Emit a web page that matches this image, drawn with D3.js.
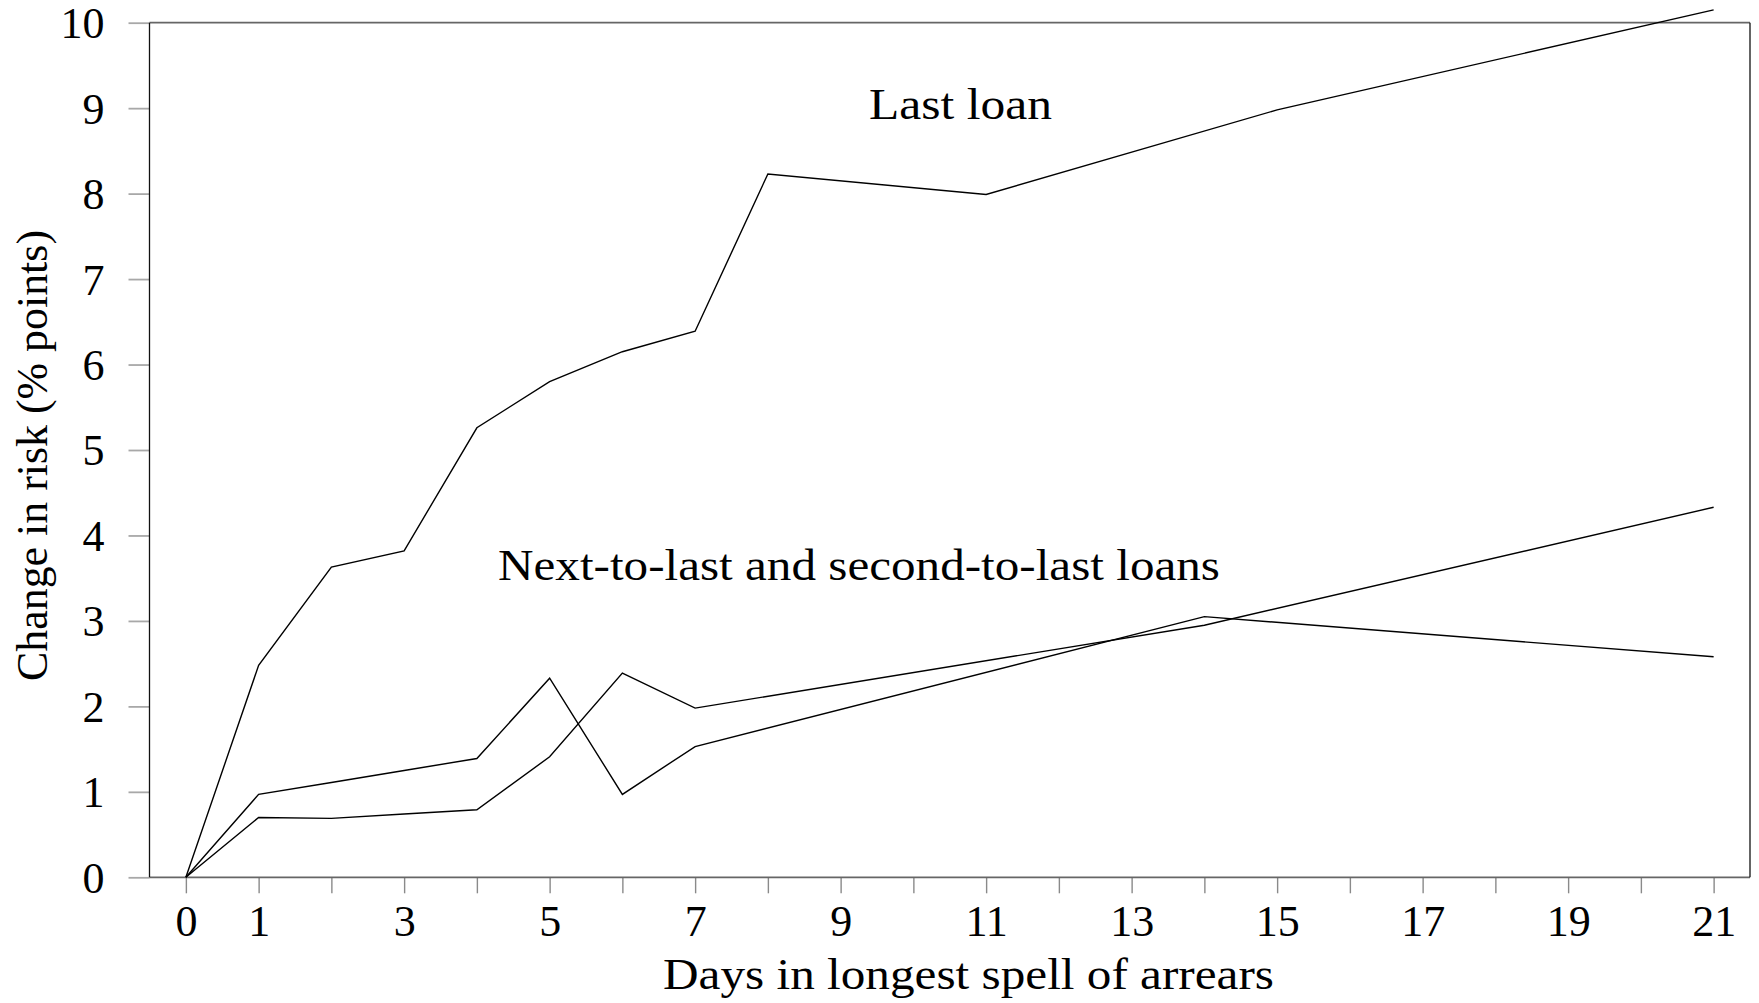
<!DOCTYPE html>
<html>
<head>
<meta charset="utf-8">
<script src="https://cdn.jsdelivr.net/npm/d3@7"></script>
<style>
  html, body { margin: 0; padding: 0; background: #fff; }
  svg { display: block; }
  text { font-family: "Liberation Serif", "DejaVu Serif", serif; fill: #000; }
</style>
</head>
<body>
<svg id="chart" width="1759" height="1003"></svg>
<script>
// Days in the longest spell of arrears (x positions of each series)
const daysLast = [0, 1, 2, 3, 4, 5, 6, 7, 8, 11, 15, 21];
const daysPrior = [0, 1, 2, 3, 4, 5, 6, 7, 14, 21];

// Change in risk, percentage points
const lastLoan = [0, 2.48, 3.63, 3.82, 5.26, 5.80, 6.15, 6.39, 8.23, 7.99, 8.98, 10.15];
const nextToLast = [0, 0.97, 1.11, 1.25, 1.39, 2.33, 0.97, 1.53, 3.05, 2.58];
const secondToLast = [0, 0.70, 0.69, 0.74, 0.79, 1.41, 2.39, 1.98, 2.95, 4.33];

// Axis ticks and labels
const xTicks = d3.range(0, 22);
const xLabels = [0, 1, 3, 5, 7, 9, 11, 13, 15, 17, 19, 21];
const yTicks = d3.range(0, 11);

const labelLast = "Last loan";
const labelPrior = "Next-to-last and second-to-last loans";
const xTitle = "Days in longest spell of arrears";
const yTitle = "Change in risk (% points)";

const svg = d3.select("#chart");
const plot = { left: 149.5, right: 1750, top: 22.7, bottom: 877.3 };

const x = d3.scaleLinear().domain([-0.5, 21.5]).range([plot.left, plot.right]);
const y = d3.scaleLinear().domain([0, 10]).range([plot.bottom, plot.top]);

// Axes
const xAxis = d3.axisBottom(x)
  .tickValues(xTicks)
  .tickSize(16)
  .tickPadding(14)
  .tickFormat(d => xLabels.includes(d) ? d : "");
const gx = svg.append("g").attr("transform", `translate(0,${plot.bottom})`).call(xAxis);
gx.select(".domain").remove();
gx.selectAll(".tick line").attr("stroke", "#8a8a8a").attr("stroke-width", 1.4);
gx.selectAll(".tick text")
  .attr("font-size", 44)
  .attr("font-family", "Liberation Serif")
  .attr("fill", "#000")
  .attr("dy", null)
  .attr("y", 59);

const yAxis = d3.axisLeft(y)
  .tickValues(yTicks)
  .tickSize(21)
  .tickPadding(24)
  .tickFormat(d3.format("d"));
const gy = svg.append("g").attr("transform", `translate(${plot.left},0)`).call(yAxis);
gy.select(".domain").remove();
gy.selectAll(".tick line").attr("stroke", "#a8a8a8").attr("stroke-width", 1.8);
gy.selectAll(".tick text")
  .attr("font-size", 44)
  .attr("font-family", "Liberation Serif")
  .attr("fill", "#000")
  .attr("dy", "0.34em");

// Frame
const frame = svg.append("g").attr("fill", "none");
frame.append("line").attr("x1", plot.left).attr("x2", plot.right).attr("y1", plot.top).attr("y2", plot.top)
  .attr("stroke", "#666").attr("stroke-width", 1.8);
frame.append("line").attr("x1", plot.left).attr("x2", plot.right).attr("y1", plot.bottom).attr("y2", plot.bottom)
  .attr("stroke", "#666").attr("stroke-width", 1.8);
frame.append("line").attr("x1", plot.left).attr("x2", plot.left).attr("y1", plot.top).attr("y2", plot.bottom)
  .attr("stroke", "#111").attr("stroke-width", 1.3);
frame.append("line").attr("x1", plot.right).attr("x2", plot.right).attr("y1", plot.top).attr("y2", plot.bottom)
  .attr("stroke", "#111").attr("stroke-width", 1.3);

// Series lines
const line = d3.line().x(d => x(d[0])).y(d => y(d[1]));
const series = [
  d3.zip(daysLast, lastLoan),
  d3.zip(daysPrior, nextToLast),
  d3.zip(daysPrior, secondToLast)
];
svg.append("g").selectAll("path").data(series).join("path")
  .attr("d", line)
  .attr("fill", "none")
  .attr("stroke", "#000")
  .attr("stroke-width", 1.4)
  .attr("stroke-linejoin", "miter");

// Annotations
svg.append("text").attr("x", 869).attr("y", 119)
  .attr("font-size", 45)
  .attr("textLength", 183).attr("lengthAdjust", "spacingAndGlyphs")
  .text(labelLast);
svg.append("text").attr("x", 498).attr("y", 580)
  .attr("font-size", 45)
  .attr("textLength", 722).attr("lengthAdjust", "spacingAndGlyphs")
  .text(labelPrior);

// Axis titles
svg.append("text").attr("x", 663).attr("y", 989)
  .attr("font-size", 45)
  .attr("textLength", 611).attr("lengthAdjust", "spacingAndGlyphs")
  .text(xTitle);
svg.append("text")
  .attr("transform", "translate(47,681) rotate(-90)")
  .attr("font-size", 45)
  .attr("textLength", 451).attr("lengthAdjust", "spacingAndGlyphs")
  .text(yTitle);
</script>
</body>
</html>
